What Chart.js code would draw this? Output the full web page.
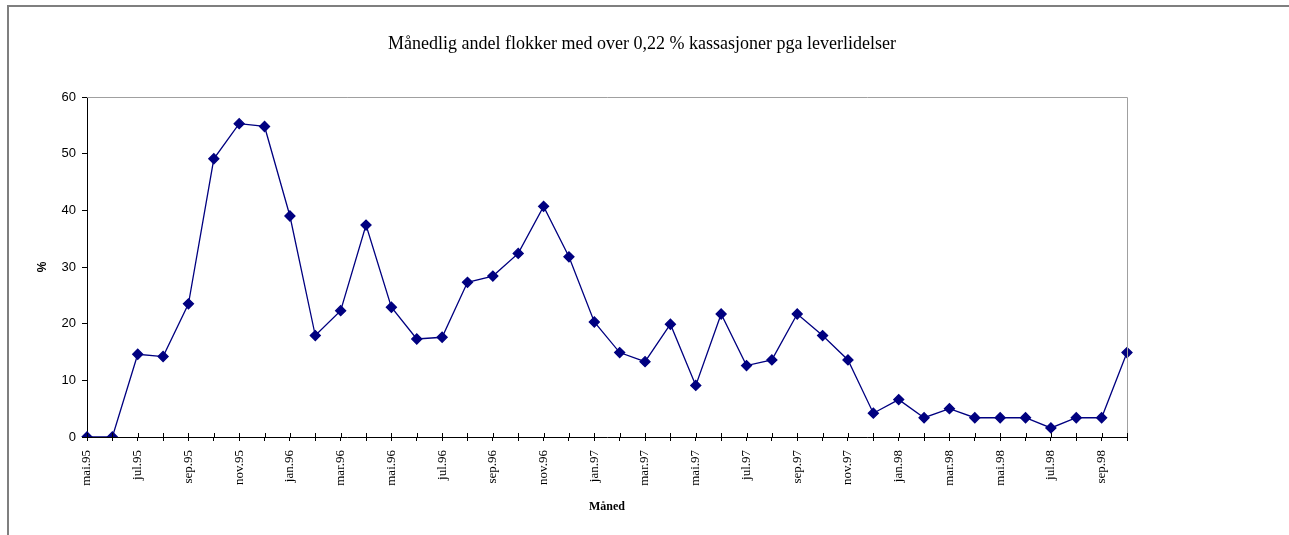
<!DOCTYPE html>
<html>
<head>
<meta charset="utf-8">
<script src="https://cdn.jsdelivr.net/npm/chart.js@4/dist/chart.umd.min.js"></script>
<style>
  html, body { margin: 0; padding: 0; background: #fff; overflow: hidden; }
  #wrap { position: relative; width: 1289px; height: 535px; }
  #frame {
    position: absolute; left: 7px; top: 5px; width: 1400px; height: 600px;
    border-top: 2px solid #7f7f7f; border-left: 2px solid #7f7f7f;
    pointer-events: none;
  }
  #title {
    position: absolute; left: 0; width: 1284px; top: 31px;
    text-align: center; font: 18px "Liberation Serif", serif; color: #000;
    line-height: 24px;
  }
</style>
</head>
<body>
<div id="wrap">
  <canvas id="chart" width="1289" height="535"></canvas>
  <div id="frame"></div>
  <div id="title">Månedlig andel flokker med over 0,22 % kassasjoner pga leverlidelser</div>
</div>
<script>
// ===== DATA =====
const months = [
  "mai.95", "jun.95", "jul.95", "aug.95", "sep.95", "okt.95", "nov.95", "des.95",
  "jan.96", "feb.96", "mar.96", "apr.96", "mai.96", "jun.96", "jul.96", "aug.96",
  "sep.96", "okt.96", "nov.96", "des.96", "jan.97", "feb.97", "mar.97", "apr.97",
  "mai.97", "jun.97", "jul.97", "aug.97", "sep.97", "okt.97", "nov.97", "des.97",
  "jan.98", "feb.98", "mar.98", "apr.98", "mai.98", "jun.98", "jul.98", "aug.98",
  "sep.98", "okt.98"
];
const andel = [
  0, 0, 14.6, 14.2, 23.5, 49.1, 55.3, 54.8,
  39.0, 17.9, 22.3, 37.4, 22.9, 17.3, 17.6, 27.3,
  28.4, 32.4, 40.7, 31.8, 20.3, 14.9, 13.3, 19.9,
  9.1, 21.7, 12.6, 13.6, 21.7, 17.9, 13.6, 4.2,
  6.6, 3.4, 5.0, 3.4, 3.4, 3.4, 1.6, 3.4,
  3.4, 14.9
];
const yTicks = [0, 10, 20, 30, 40, 50, 60];

// ===== PLOT FRAME + INNER X TICKS =====
const frameLines = {
  id: "frameLines",
  afterDatasetsDraw(chart) {
    const { ctx, chartArea: a, scales } = chart;
    ctx.save();
    // gray top and right edge of plot area
    ctx.strokeStyle = "#a0a0a0";
    ctx.lineWidth = 1;
    ctx.beginPath();
    ctx.moveTo(a.left, a.top + 0.5);
    ctx.lineTo(a.right + 0.5, a.top + 0.5);
    ctx.lineTo(a.right + 0.5, a.bottom);
    ctx.stroke();
    // tick marks crossing the x axis upward
    ctx.strokeStyle = "#000";
    ctx.beginPath();
    scales.x.ticks.forEach((t, i) => {
      const x = Math.round(scales.x.getPixelForTick(i)) + 0.5;
      ctx.moveTo(x, a.bottom);
      ctx.lineTo(x, a.bottom - 4);
    });
    ctx.stroke();
    ctx.restore();
  }
};

const chart = new Chart(document.getElementById("chart"), {
  type: "line",
  data: {
    labels: months,
    datasets: [{
      label: "Andel",
      data: andel,
      borderColor: "#000080",
      backgroundColor: "#000080",
      borderWidth: 1.3,
      pointStyle: "rectRot",
      pointRadius: 5,
      pointHoverRadius: 5,
      pointBackgroundColor: "#000080",
      pointBorderColor: "#000080",
      tension: 0,
      fill: false
    }]
  },
  options: {
    responsive: false,
    animation: false,
    layout: { padding: { left: 10, right: 162, top: 97, bottom: 0 } },
    plugins: {
      legend: { display: false },
      tooltip: { enabled: false },
      title: { display: false }
    },
    scales: {
      x: {
        offset: false,
        afterFit(scale) { scale.height = 98; },
        border: { display: true, color: "#000", width: 1 },
        grid: { display: true, drawOnChartArea: false, drawTicks: true, tickLength: 4, color: "#000" },
        ticks: {
          autoSkip: false,
          minRotation: 90,
          maxRotation: 90,
          padding: 9,
          color: "#000",
          font: { family: "Liberation Serif", size: 13 },
          callback(value, index) { return index % 2 === 0 ? months[index] : ""; }
        },
        title: {
          display: true,
          text: "Måned",
          color: "#000",
          font: { family: "Liberation Serif", size: 12, weight: "bold" },
          padding: { top: 0, bottom: 21 }
        }
      },
      y: {
        min: yTicks[0],
        max: yTicks[yTicks.length - 1],
        afterFit(scale) { scale.width = 77; },
        afterBuildTicks(scale) { scale.ticks = yTicks.map(v => ({ value: v })); },
        border: { display: true, color: "#000", width: 1 },
        grid: { display: true, drawOnChartArea: false, drawTicks: true, tickLength: 5, color: "#000" },
        ticks: {
          padding: 6,
          color: "#000",
          font: { family: "Liberation Sans", size: 13 }
        },
        title: {
          display: true,
          text: "%",
          color: "#000",
          font: { family: "Liberation Sans", size: 12, weight: "bold" },
          padding: { top: 25, bottom: 0 }
        }
      }
    }
  },
  plugins: [frameLines]
});
</script>
</body>
</html>
